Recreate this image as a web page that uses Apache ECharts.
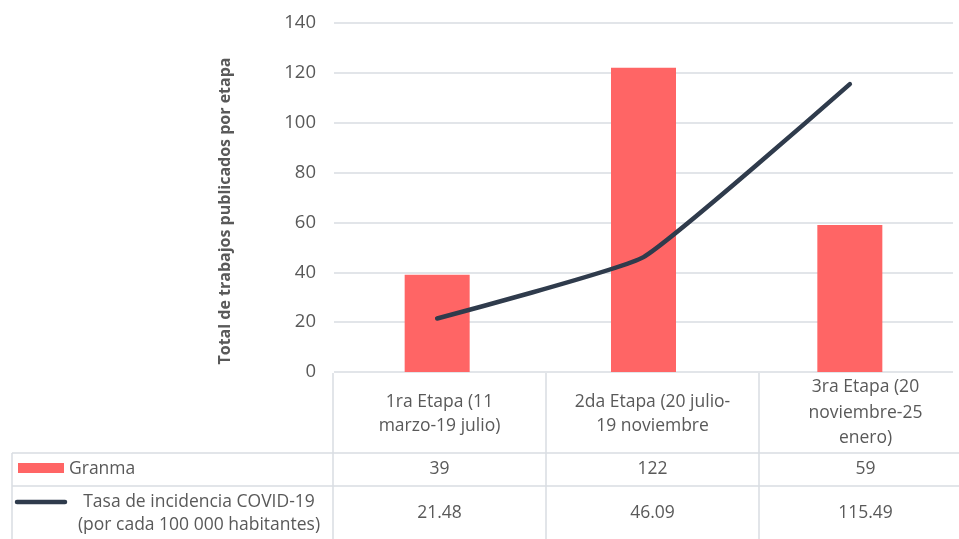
<!DOCTYPE html>
<html>
<head>
<meta charset="utf-8">
<script src="https://cdn.jsdelivr.net/npm/echarts@6/dist/echarts.min.js"></script>
<style>
  html, body { margin: 0; padding: 0; background: #ffffff; }
  #chart { width: 959px; height: 539px; }
</style>
</head>
<body>
<div id="chart"></div>
<script>
// Stages (header cells of the data table)
const categories = [
  '1ra Etapa (11\nmarzo-19 julio)',
  '2da Etapa (20 julio-\n19 noviembre',
  '3ra Etapa (20\nnoviembre-25\nenero)'
];
const barName = 'Granma';
const lineName = 'Tasa de incidencia COVID-19\n(por cada 100 000 habitantes)';
const barValues = [39, 122, 59];
const lineValues = [21.48, 46.09, 115.49];
const yTicks = [0, 20, 40, 60, 80, 100, 120, 140];
const yTitle = 'Total de trabajos publicados por etapa';

const FONT = '"Open Sans", "Noto Sans", sans-serif';
const TEXT = '#595959';
const RULE = '#d9dce2';
const BAR = '#ff6565';
const LINE = '#2f3b4c';
const FS = 17.5;

const chart = echarts.init(document.getElementById('chart'), null, { renderer: 'canvas' });

// Data table geometry
const tbl = {
  top: 373, headBottom: 453, row1Bottom: 486, bottom: 560,
  left: 12, catLeft: 333, colW: 213, right: 972
};
const colX = i => tbl.catLeft + i * tbl.colW;
const colCenter = i => colX(i) + tbl.colW / 2;

function tableGraphics() {
  const g = [];
  const line = (x1, y1, x2, y2) => g.push({
    type: 'line', silent: true,
    shape: { x1, y1, x2, y2 },
    style: { stroke: RULE, lineWidth: 1.5 }
  });
  // horizontal rules
  line(tbl.left, tbl.headBottom, tbl.right, tbl.headBottom);
  line(tbl.left, tbl.row1Bottom, tbl.right, tbl.row1Bottom);
  // vertical rules
  line(tbl.left, tbl.headBottom, tbl.left, tbl.bottom);
  for (let i = 0; i <= categories.length; i++) line(colX(i), tbl.top, colX(i), tbl.bottom);

  const txt = (x, y, text, align, lh) => g.push({
    type: 'text', silent: true, x, y,
    style: {
      text, fill: TEXT, font: FS + 'px ' + FONT,
      textAlign: align || 'center', textVerticalAlign: 'middle',
      lineHeight: lh || 25
    }
  });
  // header cells
  categories.forEach((c, i) => {
    const three = c.split('\n').length > 2;
    txt(colCenter(i), three ? 413 : 414, c, 'center', three ? 25.5 : 23.5);
  });
  // row values
  barValues.forEach((v, i) => txt(colCenter(i), 469, String(v)));
  lineValues.forEach((v, i) => txt(colCenter(i), 513, String(v)));

  // legend keys inside the table
  g.push({ type: 'rect', silent: true, shape: { x: 18, y: 463, width: 46, height: 10 }, style: { fill: BAR } });
  txt(69, 469, barName, 'left');
  g.push({
    type: 'line', silent: true, shape: { x1: 17, y1: 502, x2: 65, y2: 502 },
    style: { stroke: LINE, lineWidth: 4.5, lineCap: 'round' }
  });
  txt(199, 513.5, lineName, 'center', 23);

  // rotated value-axis title
  g.push({
    type: 'text', silent: true, x: 225, y: 211, rotation: Math.PI / 2,
    style: {
      text: yTitle, fill: TEXT, font: 'bold 16px ' + FONT,
      textAlign: 'center', textVerticalAlign: 'middle'
    }
  });
  return g;
}

chart.setOption({
  animation: false,
  backgroundColor: '#ffffff',
  grid: { left: 334, right: 6, top: 23, bottom: 539 - 372, containLabel: false },
  xAxis: {
    type: 'category',
    data: categories,
    axisLine: { show: false },
    axisTick: { show: false },
    axisLabel: { show: false }
  },
  yAxis: {
    type: 'value',
    min: yTicks[0],
    max: yTicks[yTicks.length - 1],
    interval: yTicks[1] - yTicks[0],
    axisLine: { show: false },
    axisTick: { show: false },
    axisLabel: { color: TEXT, fontFamily: FONT, fontSize: 18.5, margin: 18 },
    splitLine: { lineStyle: { color: RULE, width: 1.5 } }
  },
  series: [
    {
      name: barName,
      type: 'bar',
      data: barValues,
      barWidth: 65,
      itemStyle: { color: BAR },
      z: 2
    },
    {
      name: lineName,
      type: 'line',
      data: lineValues,
      smooth: 0.12,
      symbol: 'none',
      lineStyle: { color: LINE, width: 4.5, cap: 'round', join: 'round' },
      z: 3
    }
  ],
  graphic: tableGraphics()
});
</script>
</body>
</html>
